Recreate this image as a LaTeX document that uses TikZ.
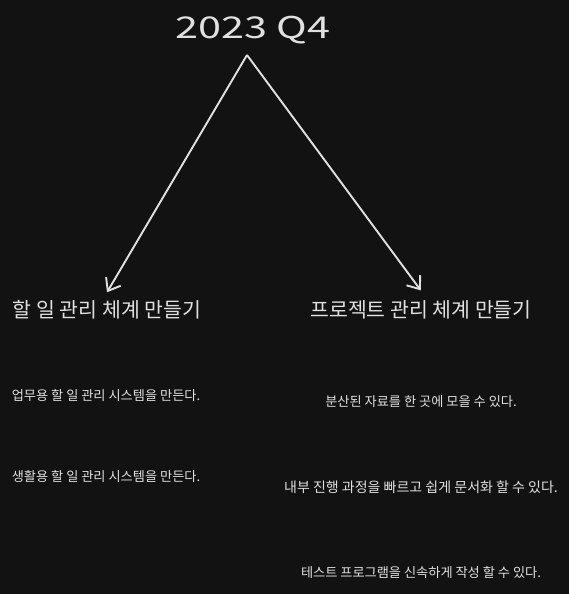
\documentclass[tikz,border=0pt]{standalone}
\usepackage{fontspec}
\setmainfont{Noto Sans CJK KR}
\usetikzlibrary{arrows.meta}
\definecolor{bgc}{HTML}{121212}
\definecolor{inkc}{HTML}{E0E0E0}
\tikzset{
  every node/.style={text=inkc, inner sep=0pt},
  titletext/.style={font=\fontsize{30}{36}\selectfont},
  headtext/.style={font=\fontsize{20.5}{24}\selectfont},
  bodytext/.style={font=\fontsize{13.2}{16}\selectfont},
  widetext/.style={font=\fontsize{14}{17}\selectfont},
  link/.style={draw=inkc, line width=1.9pt, -{Straight Barb[length=11pt,width=17pt,line width=1.9pt]}, shorten >=2pt}
}
\begin{document}
\begin{tikzpicture}[x=1pt,y=-1pt]
\fill[bgc] (0,0) rectangle (569,594);
\useasboundingbox (0,0) rectangle (569,594);
\node[titletext] (t) at (253,30) {\scalebox{1.38}[1]{2023 Q4}};
\coordinate (apex) at (247,55);
\node[headtext] (l) at (107,310) {할 일 관리 체계 만들기};
\node[headtext] (r) at (421,310) {프로젝트 관리 체계 만들기};
\node[bodytext] (l1) at (106,395) {업무용 할 일 관리 시스템을 만든다.};
\node[bodytext] (l2) at (106,476) {생활용 할 일 관리 시스템을 만든다.};
\node[bodytext] (r1) at (421,402) {분산된 자료를 한 곳에 모을 수 있다.};
\node[widetext] (r2) at (421,487) {내부 진행 과정을 빠르고 쉽게 문서화 할 수 있다.};
\node[bodytext] (r3) at (421,572) {테스트 프로그램을 신속하게 작성 할 수 있다.};
\coordinate (le) at (106,294);
\coordinate (re) at (422,292);
\draw[link] (apex) -- (le);
\draw[link] (apex) -- (re);
\end{tikzpicture}
\end{document}
